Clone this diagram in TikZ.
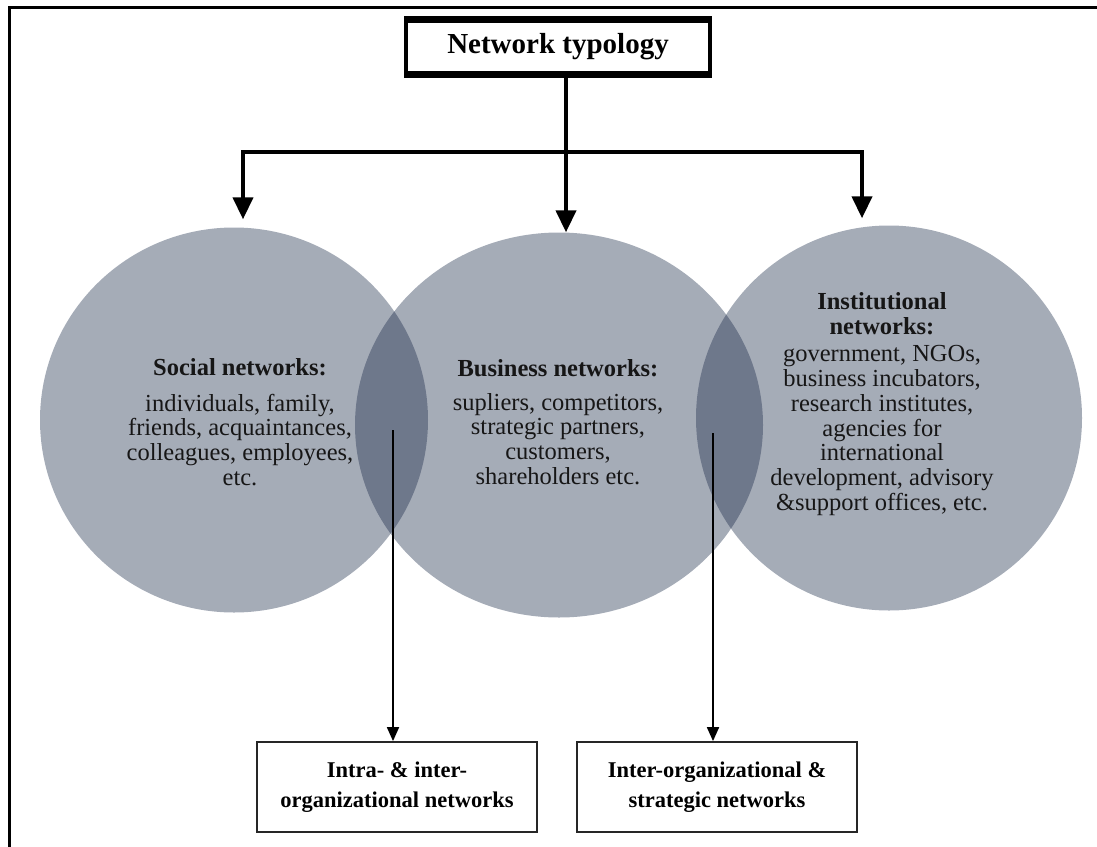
\documentclass[tikz,border=0pt]{standalone}
\usepackage{fontspec}
\setmainfont{Liberation Serif}
\usetikzlibrary{arrows.meta,shapes.geometric,calc}
\definecolor{discfill}{RGB}{24,40,70}
\definecolor{ink}{RGB}{22,22,22}
\tikzset{
  disc/.style={ellipse, fill=discfill, fill opacity=0.39, draw=none, inner sep=0pt},
  disctext/.style={align=center, text=ink, inner sep=0pt,
    font=\fontsize{24.5}{24.7}\selectfont},
  topbox/.style={draw=black, line width=3.5pt, fill=white, minimum width=304pt,
    minimum height=52pt, inner sep=0pt, font=\bfseries\fontsize{29}{29}\selectfont},
  topedge/.style={line width=6pt, draw=black},
  outbox/.style={draw=black!85, line width=1.8pt, minimum width=280pt,
    minimum height=90pt, inner sep=0pt, align=center,
    font=\bfseries\fontsize{22.5}{30}\selectfont},
  bigline/.style={line width=4pt, draw=black},
  bigarrow/.style={line width=4pt, draw=black,
    -{Triangle[length=22pt,width=20pt]}},
  thinarrow/.style={line width=1.8pt, draw=black,
    -{Triangle[length=14pt,width=12pt]}},
  frameline/.style={line width=3pt, draw=black},
}
\begin{document}
\begin{tikzpicture}[x=1pt,y=-1pt]
\useasboundingbox (0,0) rectangle (1097,846);
% outer frame (open at right and bottom, cropped)
\coordinate (fA) at (9,900);
\coordinate (fB) at (9,7);
\coordinate (fC) at (1120,7);
\draw[frameline] (fA) -- (fB) -- (fC);

% circles
\node[disc, minimum width=388pt, minimum height=385pt] (soc) at (234,420) {};
\node[disc, minimum width=408pt, minimum height=385pt] (bus) at (559,425) {};
\node[disc, minimum width=386pt, minimum height=385pt] (ins) at (889,418) {};

% circle texts
\node[disctext] (soct) at (240,422) {\textbf{Social networks:}\\[11pt]
  individuals, family,\\ friends, acquaintances,\\ colleagues, employees,\\ etc.};
\node[disctext] (bust) at (558,422) {\textbf{Business networks:}\\[9pt]
  supliers, competitors,\\ strategic partners,\\ customers,\\ shareholders etc.};
\node[disctext] (inst) at (882,404) {\textbf{Institutional}\\ \textbf{networks:}\\[3pt]
  government, NGOs,\\ business incubators,\\ research institutes,\\ agencies for\\
  international\\ development, advisory\\ \&support offices, etc.};

% top box
\node[topbox] (top) at (558,47) {Network typology};
\draw[topedge] (top.north west) -- (top.north east);
\draw[topedge] (top.south west) -- (top.south east);

% bottom boxes
\node[outbox] (bl) at (397,787) {Intra- \& inter-\\organizational networks};
\node[outbox] (br) at (717,787) {Inter-organizational \&\\strategic networks};

% top connectors
\coordinate (hub) at (566,152);
\coordinate (hL) at (243,152);
\coordinate (hR) at (862,152);
\draw[bigline] (top.south -| hub) -- (hub);
\draw[bigline] ([xshift=-2pt]hL) -- ([xshift=2pt]hR);
\draw[bigarrow] (hL) -- (hL |- soc.north) [shorten >=8pt];
\draw[bigarrow] (hub) -- (hub |- bus.north);
\draw[bigarrow] (hR) -- (hR |- ins.north) [shorten >=7pt];

% lower connectors
\coordinate (lL) at (393,430);
\coordinate (lR) at (713,433);
\draw[thinarrow] (lL) -- (lL |- bl.north);
\draw[thinarrow] (lR) -- (lR |- br.north);
\end{tikzpicture}
\end{document}
